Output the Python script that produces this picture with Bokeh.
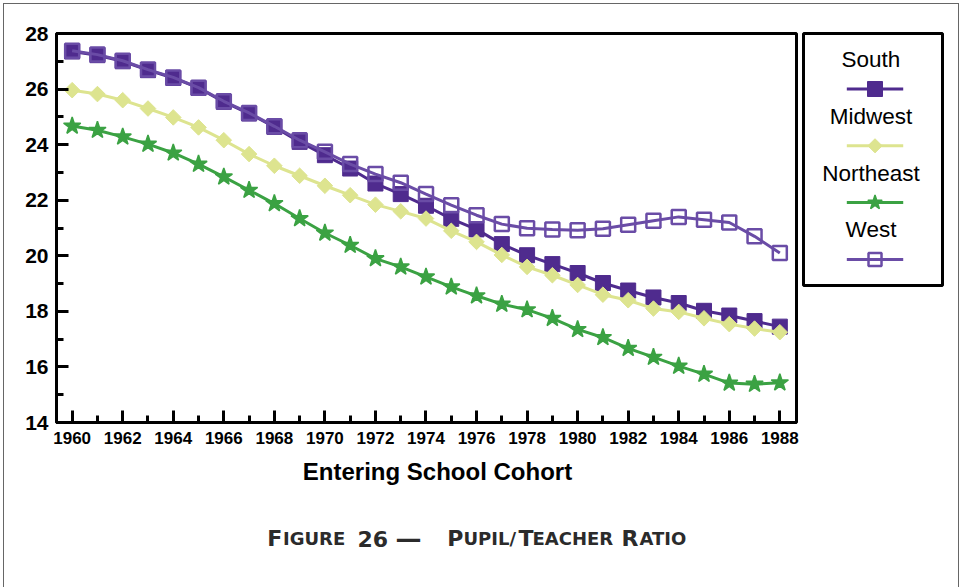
from bokeh.plotting import figure
from bokeh.models import Range1d, SingleIntervalTicker
from bokeh.layouts import row, column
from bokeh.embed import file_html
from bokeh.resources import INLINE
from bokeh.core.properties import value

# ---------------- data ----------------
years = list(range(1960, 1989))
south = [27.35, 27.22, 27.00, 26.68, 26.40, 26.04, 25.54, 25.12, 24.64, 24.10,
         23.62, 23.14, 22.60, 22.22, 21.80, 21.33, 20.95, 20.42, 20.02, 19.70,
         19.38, 19.02, 18.75, 18.50, 18.30, 18.02, 17.85, 17.65, 17.45]
midwest = [25.96, 25.82, 25.60, 25.30, 24.98, 24.62, 24.16, 23.66, 23.24, 22.88,
           22.52, 22.18, 21.84, 21.60, 21.34, 20.90, 20.50, 20.03, 19.60, 19.30,
           18.95, 18.60, 18.40, 18.10, 17.98, 17.75, 17.54, 17.38, 17.25]
northeast = [24.67, 24.52, 24.28, 24.02, 23.70, 23.30, 22.84, 22.36, 21.88, 21.34,
             20.82, 20.38, 19.90, 19.60, 19.24, 18.88, 18.56, 18.26, 18.06, 17.75,
             17.35, 17.06, 16.67, 16.35, 16.03, 15.74, 15.42, 15.38, 15.43]
west = [27.38, 27.24, 27.02, 26.70, 26.42, 26.05, 25.56, 25.14, 24.66, 24.16,
        23.74, 23.30, 22.94, 22.63, 22.22, 21.82, 21.46, 21.14, 20.99, 20.95,
        20.92, 20.97, 21.12, 21.26, 21.40, 21.30, 21.20, 20.70, 20.10]

series_names = ["South", "Midwest", "Northeast", "West"]
x_title = "Entering School Cohort"
caption_parts = ["F", "IGURE", "26", "\u2014", "P", "UPIL/", "T", "EACHER", "R", "ATIO"]
caption_size = ["22px", "18px", "22px", "26px", "22px", "18px", "22px", "18px", "22px", "18px"]

# ---------------- styles ----------------
colors = {"South": "#4f2b8e", "Midwest": "#dde48f", "Northeast": "#3ba243", "West": "#6a4ca6"}
TOP_H = 455  # height of the chart row; caption strip below
YOFF = 8.5   # baseline correction for text glyphs


def clear_bg(f):
    f.background_fill_alpha = 0
    f.border_fill_alpha = 0


p = figure(width=800, height=TOP_H,
           x_range=Range1d(1959.38, 1988.66), y_range=Range1d(14, 28),
           output_backend="svg", toolbar_location=None,
           min_border_left=56, min_border_right=4, min_border_top=33,
           min_border_bottom=TOP_H - 422)
p.frame_align = False
p.xgrid.visible = False
p.ygrid.visible = False
p.outline_line_color = "black"
p.outline_line_width = 3
p.outline_line_alpha = 1.0
clear_bg(p)

p.xaxis.ticker = SingleIntervalTicker(interval=2, num_minor_ticks=2)
p.yaxis.ticker = SingleIntervalTicker(interval=2, num_minor_ticks=2)
for ax in (p.xaxis[0], p.yaxis[0]):
    ax.major_tick_in = 12
    ax.major_tick_out = 0
    ax.minor_tick_in = 7
    ax.minor_tick_out = 0
    ax.axis_line_width = 3
    ax.major_tick_line_width = 3
    ax.minor_tick_line_width = 3
    ax.axis_line_color = "black"
    ax.major_tick_line_color = "black"
    ax.minor_tick_line_color = "black"
    ax.major_label_text_font = "Liberation Sans"
    ax.major_label_text_font_style = "bold"
    ax.major_label_text_color = "black"
p.xaxis.major_label_text_font_size = "17px"
p.yaxis.major_label_text_font_size = "21px"
p.xaxis.major_label_standoff = 9
p.yaxis.major_label_standoff = 8

# Northeast
c = colors["Northeast"]
p.line(years, northeast, line_color=c, line_width=3)
p.scatter(years, northeast, marker="star", size=18, fill_color=c, line_color=c, line_width=1.5)
# South
c = colors["South"]
p.line(years, south, line_color=c, line_width=3)
p.scatter(years, south, marker="square", size=15, fill_color=c, line_color=c)
# Midwest
c = colors["Midwest"]
p.line(years, midwest, line_color=c, line_width=3)
p.scatter(years, midwest, marker="square", size=11, angle=0.7854, fill_color=c, line_color=c)
# West
c = colors["West"]
p.line(years, west, line_color=c, line_width=3)
p.scatter(years, west, marker="square", size=14, fill_color=None, line_color=c, line_width=2.5)

# ---------------- legend panel ----------------
lg = figure(width=161, height=TOP_H, x_range=Range1d(0, 138), y_range=Range1d(252, 0),
            output_backend="svg", toolbar_location=None,
            x_axis_location=None, y_axis_location=None,
            min_border_left=3, min_border_right=19, min_border_top=33,
            min_border_bottom=TOP_H - 285)
lg.frame_align = False
lg.xgrid.visible = False
lg.ygrid.visible = False
lg.outline_line_color = "black"
lg.outline_line_width = 3
lg.outline_line_alpha = 1.0
clear_bg(lg)

step = 56.8
for i, name in enumerate(series_names):
    c = colors[name]
    ty = 26 + i * step
    ly = 55.5 + i * step
    lg.text(x=[67], y=[ty], text=[name], text_align="center", text_baseline="alphabetic",
            text_font=value("Liberation Sans"), text_font_size=value("22.5px"), text_color="black")
    lg.line([43, 99], [ly, ly], line_color=c, line_width=3)
    if name == "South":
        lg.scatter([71], [ly], marker="square", size=15, fill_color=c, line_color=c)
    elif name == "Midwest":
        lg.scatter([71], [ly], marker="square", size=10, angle=0.7854, fill_color=c, line_color=c)
    elif name == "Northeast":
        lg.scatter([71], [ly], marker="star", size=15, fill_color=c, line_color=c, line_width=1.5)
    else:
        lg.scatter([71], [ly], marker="square", size=13, fill_color=None, line_color=c, line_width=2.5)

# ---------------- axis title + caption strip ----------------
cap = figure(width=961, height=587 - TOP_H, x_range=Range1d(0, 961), y_range=Range1d(587, TOP_H),
             output_backend="svg", toolbar_location=None,
             x_axis_location=None, y_axis_location=None,
             min_border_left=0, min_border_right=0, min_border_top=0, min_border_bottom=0)
cap.frame_align = False
cap.xgrid.visible = False
cap.ygrid.visible = False
cap.outline_line_color = None
clear_bg(cap)

cap.text(x=[437], y=[479 - YOFF], text=[x_title], text_align="center", text_baseline="alphabetic",
         text_font=value("Liberation Sans"), text_font_style="bold",
         text_font_size=value("24px"), text_color="black")

caption_x = [266.7, 282.5, 357, 395, 446.7, 463, 518, 532, 621, 639]
for txt, fs, wx in zip(caption_parts, caption_size, caption_x):
    cap.text(x=[wx], y=[546.7 - YOFF], text=[txt], text_align="left", text_baseline="alphabetic",
             text_font=value("DejaVu Sans"), text_font_style="bold",
             text_font_size=value(fs), text_color="#2b2b2b")

page_frame = ("linear-gradient(#666,#666) 3px 3px / 1px 100% no-repeat, "
              "linear-gradient(#666,#666) 958px 3px / 1px 100% no-repeat, "
              "linear-gradient(#666,#666) 3px 3px / 956px 1px no-repeat, white")
layout = column(row(p, lg), cap, styles={"background": page_frame})
open("out.html", "w").write(file_html(layout, INLINE))
